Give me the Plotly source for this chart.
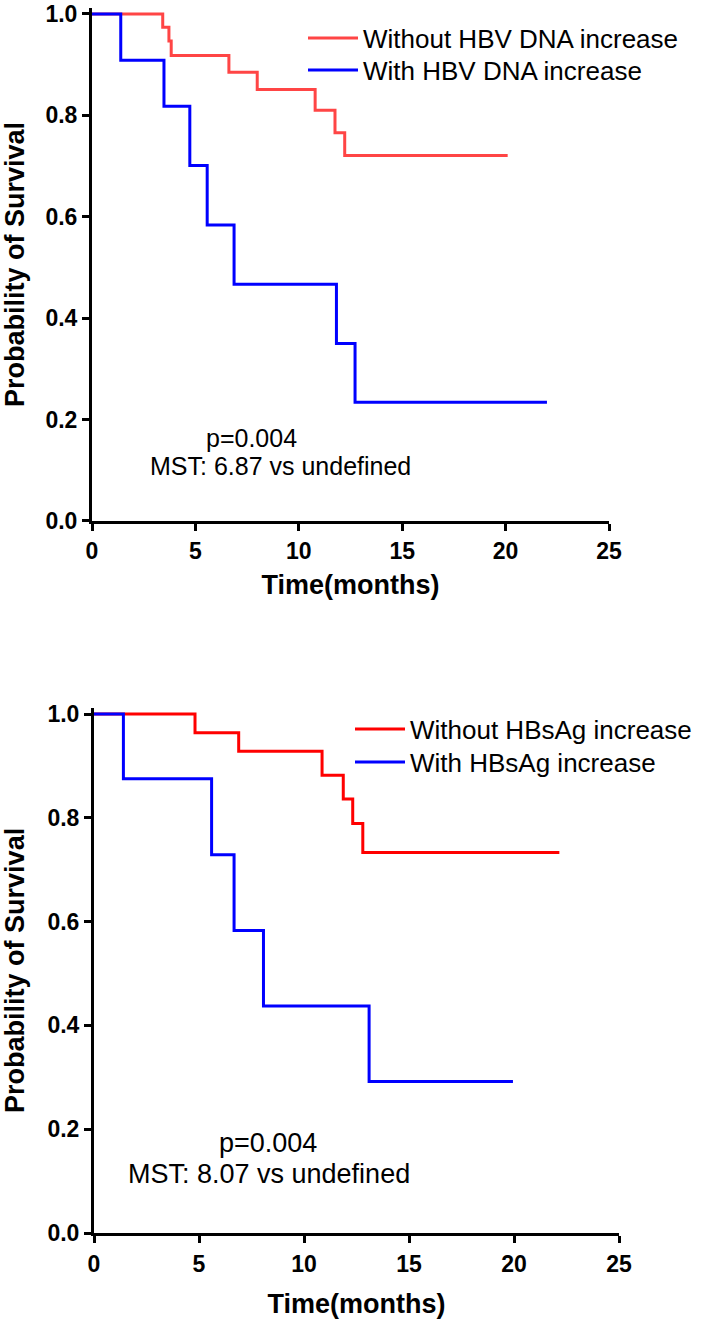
import plotly.graph_objects as go

# ---------------- data ----------------
# Top panel: HBV DNA
top_red_t = [0, 3.42, 3.72, 3.83, 6.62, 7.99, 10.79, 11.75, 12.22, 20.1]
top_red_s = [1.0, 0.974, 0.947, 0.918, 0.885, 0.851, 0.810, 0.766, 0.721, 0.721]
top_blue_t = [0, 1.39, 3.48, 4.73, 5.57, 6.87, 11.82, 12.72, 22.0]
top_blue_s = [1.0, 0.909, 0.818, 0.701, 0.584, 0.467, 0.350, 0.234, 0.234]

# Bottom panel: HBsAg
bot_red_t = [0, 4.81, 6.89, 10.86, 11.87, 12.32, 12.8, 22.16]
bot_red_s = [1.0, 0.964, 0.928, 0.882, 0.836, 0.789, 0.733, 0.733]
bot_blue_t = [0, 1.40, 5.60, 6.67, 8.07, 13.1, 19.95]
bot_blue_s = [1.0, 0.875, 0.729, 0.583, 0.4375, 0.292, 0.292]

top_names = ["Without HBV DNA increase", "With HBV DNA increase"]
bot_names = ["Without HBsAg increase", "With HBsAg increase"]
x_ticks = [0, 5, 10, 15, 20, 25]
y_ticks = [0.0, 0.2, 0.4, 0.6, 0.8, 1.0]
y_tick_text = ["0.0", "0.2", "0.4", "0.6", "0.8", "1.0"]
top_notes = ["p=0.004", "MST: 6.87 vs undefined"]
bot_notes = ["p=0.004", "MST: 8.07 vs undefined"]

W, H = 703, 1325
FONT = "Arial, Liberation Sans, sans-serif"
RED_TOP = "#FF4545"
RED_BOT = "#FF0000"
BLUE = "#0000FF"

fig = go.Figure()
fig.add_trace(go.Scatter(x=top_red_t, y=top_red_s, mode="lines", line=dict(color=RED_TOP, width=3, shape="hv"),
                         name=top_names[0], xaxis="x", yaxis="y", legend="legend"))
fig.add_trace(go.Scatter(x=top_blue_t, y=top_blue_s, mode="lines", line=dict(color=BLUE, width=3, shape="hv"),
                         name=top_names[1], xaxis="x", yaxis="y", legend="legend2"))
fig.add_trace(go.Scatter(x=bot_red_t, y=bot_red_s, mode="lines", line=dict(color=RED_BOT, width=3, shape="hv"),
                         name=bot_names[0], xaxis="x2", yaxis="y2", legend="legend3"))
fig.add_trace(go.Scatter(x=bot_blue_t, y=bot_blue_s, mode="lines", line=dict(color=BLUE, width=3, shape="hv"),
                         name=bot_names[1], xaxis="x2", yaxis="y2", legend="legend4"))


def px_y(p):
    return (H - p) / H


def px_x(p):
    return p / W


def axis_common(size=23):
    return dict(showline=True, linecolor="black", linewidth=3, ticks="outside", ticklen=7, tickwidth=3,
                tickcolor="black", showgrid=False, zeroline=False, automargin=False,
                ticklabeloverflow="allow",
                tickfont=dict(family=FONT, size=size, color="black", weight="bold"))


title_font = dict(family=FONT, size=27, color="black", weight="bold")

# geometry (pixels)
top_y0, top_y1 = 521, 14
top_unit = top_y0 - top_y1
bot_y0, bot_y1 = 1233, 714
bot_unit = bot_y0 - bot_y1
ymax = 1.012


def legend_at(x_px, y_px, size):
    return dict(x=px_x(x_px), y=px_y(y_px), xanchor="left", yanchor="middle", bgcolor="rgba(0,0,0,0)",
                font=dict(family=FONT, size=size, color="black"), itemwidth=50, borderwidth=0)


fig.update_layout(
    width=W, height=H, margin=dict(l=0, r=0, t=0, b=0, autoexpand=False),
    paper_bgcolor="white", plot_bgcolor="white",
    xaxis=dict(domain=[px_x(92), px_x(609)], range=[0, 25], tickvals=x_ticks, anchor="y",
               title=dict(text="Time(months)", font=title_font, standoff=13),
               **axis_common()),
    yaxis=dict(domain=[px_y(top_y0), px_y(top_y0 - ymax * top_unit)], range=[0, ymax], tickvals=y_ticks,
               ticktext=y_tick_text, anchor="x",
               title=dict(text="Probability of Survival", font=title_font, standoff=15),
               **axis_common()),
    xaxis2=dict(domain=[px_x(94), px_x(619)], range=[0, 25], tickvals=x_ticks, anchor="y2",
                ticklabelstandoff=1,
                title=dict(text="Time(months)", font=title_font, standoff=19),
                **axis_common()),
    yaxis2=dict(domain=[px_y(bot_y0), px_y(bot_y0 - ymax * bot_unit)], range=[0, ymax], tickvals=y_ticks,
                ticktext=y_tick_text, anchor="x2",
                title=dict(text="Probability of Survival", font=title_font, standoff=15),
                **axis_common()),
    legend=legend_at(303, 38, 26),
    legend2=legend_at(303, 70, 26),
    legend3=legend_at(350, 729, 26),
    legend4=legend_at(350, 762, 26),
    showlegend=True,
)

anns = [
    dict(x=7.7, y=(top_y0 - 438) / top_unit, xref="x", yref="y", text=top_notes[0], size=25),
    dict(x=9.1, y=(top_y0 - 466) / top_unit, xref="x", yref="y", text=top_notes[1], size=25),
    dict(x=8.3, y=(bot_y0 - 1143) / bot_unit, xref="x2", yref="y2", text=bot_notes[0], size=27),
    dict(x=8.33, y=(bot_y0 - 1174) / bot_unit, xref="x2", yref="y2", text=bot_notes[1], size=27),
]
for a in anns:
    fig.add_annotation(x=a["x"], y=a["y"], xref=a["xref"], yref=a["yref"], text=a["text"], showarrow=False,
                       xanchor="center", yanchor="middle",
                       font=dict(family=FONT, size=a["size"], color="black"))

# remove the browser's default page margin so the figure sits at (0, 0)
fig.write_html("out.html", config={"displayModeBar": False},
               post_script="document.body.style.margin='0px';")
